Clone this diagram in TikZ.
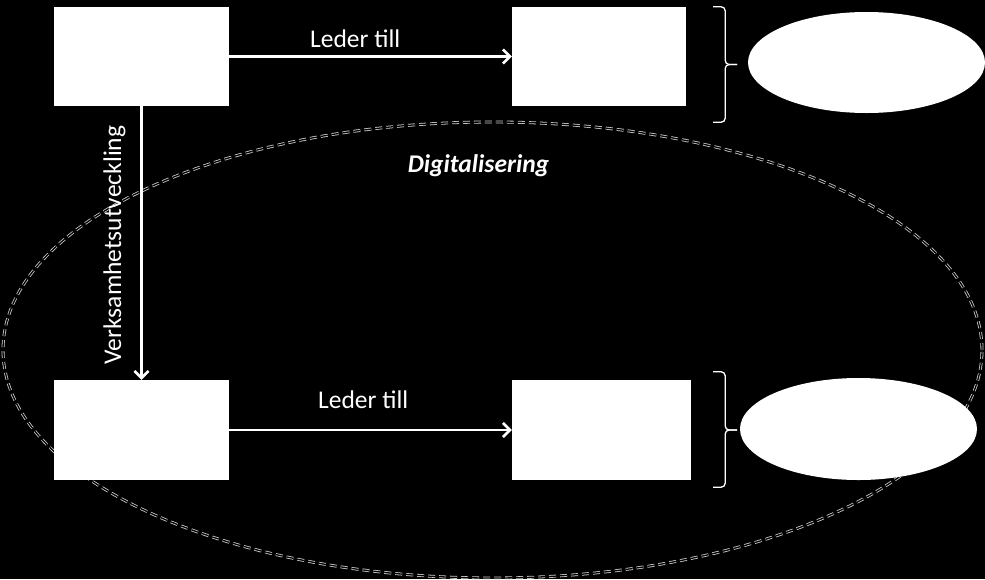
\documentclass[tikz,border=0pt]{standalone}
\usepackage{fontspec}
\setmainfont{Carlito}
\usetikzlibrary{positioning,arrows.meta,shapes.geometric,calc}
\definecolor{DigiBack}{RGB}{0,0,0}
\definecolor{DigiLine}{RGB}{205,205,205}
\tikzset{
  digi box/.style={fill=white, draw=none, inner sep=0pt, minimum width=175pt, minimum height=99pt},
  digi goal/.style={ellipse, fill=white, draw=none, inner sep=0pt, minimum width=237pt, minimum height=101pt},
  digi zone/.style={ellipse, draw=DigiLine, line width=0.8pt, double=DigiBack, double distance=1.3pt,
    dash pattern=on 7pt off 4pt, inner sep=0pt, minimum width=979pt, minimum height=456pt},
  digi arrow/.style={-{Straight Barb[length=7pt,width=14pt]}, white, line width=2.6pt},
  digi brace/.style={white, line width=1.3pt, rounded corners=4pt},
  digi label/.style={font=\fontsize{25.5}{30}\selectfont, text=white, inner sep=0pt}
}
\begin{document}
\begin{tikzpicture}[x=1pt, y=-1pt]
\fill[DigiBack] (0,0) rectangle (985,579);
\useasboundingbox (0,0) rectangle (985,579);
% the dashed zone goes first, the white shapes cover it
\node[digi zone] (zone) at (492.5,350) {};
\node[digi label, font=\fontsize{25.5}{30}\selectfont\bfseries\itshape, below=33pt of zone.north, xshift=-14pt] (dig) {Digitalisering};
\node[digi box] (tl) at (141.5,56.5) {};
\node[digi box, minimum width=174pt] (tr) at (599,56.5) {};
\node[digi box, minimum height=100pt] (bl) at (141.5,430) {};
\node[digi box, minimum width=179pt, minimum height=100pt] (br) at (601.5,430) {};
\node[digi goal] (gt) at (866.5,62.5) {};
\node[digi goal, minimum height=102pt] (gb) at (858.5,429) {};
\node[digi label] (lt) at ($(tl.east)+(126,-18)$) {Leder till};
\node[digi label] (lb) at ($(bl.east)+(134,-30)$) {Leder till};
\node[digi label, rotate=90] (lv) at ($(tl.south)!0.5!(bl.north)+(-27,2)$) {Verksamhetsutveckling};
\draw[digi arrow] (tl) -- (tr);
\draw[digi arrow] (bl) -- (br);
\draw[digi arrow] (tl.south) -- (bl.north);
% braces
\coordinate (bt) at ($(tr.east)+(51,8)$);
\draw[digi brace] ($(tr.north east)+(27,0)$) -| ($(bt)+(-12,0)$) -- (bt);
\draw[digi brace] ($(tr.south east)+(27,16)$) -| ($(bt)+(-12,0)$) -- (bt);
\coordinate (bb) at ($(br.east)+(46,0)$);
\draw[digi brace] ($(br.north east)+(22,-8)$) -| ($(bb)+(-12,0)$) -- (bb);
\draw[digi brace] ($(br.south east)+(22,7)$) -| ($(bb)+(-12,0)$) -- (bb);
\end{tikzpicture}
\end{document}
